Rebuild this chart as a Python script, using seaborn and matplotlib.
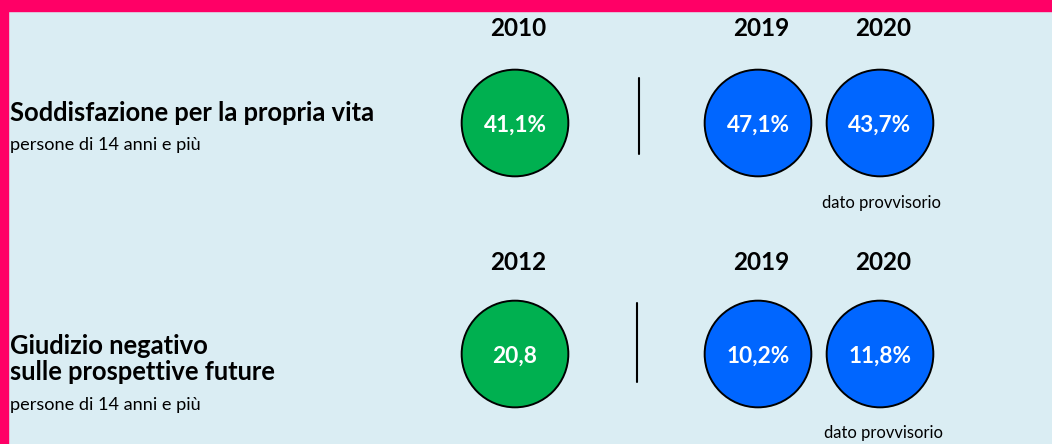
import matplotlib
matplotlib.use("Agg")
import matplotlib.pyplot as plt
import seaborn as sns
import pandas as pd

# data
indicators = ["Soddisfazione per la propria vita",
              "Giudizio negativo\nsulle prospettive future"]
subtitles = ["persone di 14 anni e più", "persone di 14 anni e più"]
years_row1 = ["2010", "2019", "2020"]
years_row2 = ["2012", "2019", "2020"]
values_row1 = [41.1, 47.1, 43.7]
values_row2 = [20.8, 10.2, 11.8]
labels_row1 = ["41,1%", "47,1%", "43,7%"]
labels_row2 = ["20,8", "10,2%", "11,8%"]
periods = ["prima", "recente", "recente"]
note = "dato provvisorio"

# layout (pixels)
col_x = [515, 758, 880]
row_y = [123, 354]
year_y = [28, 262]

rows = []
for r, (yrs, vals, labs) in enumerate([(years_row1, values_row1, labels_row1),
                                        (years_row2, values_row2, labels_row2)]):
    for c in range(3):
        rows.append({"row": r, "col": c, "year": yrs[c], "value": vals[c],
                     "label": labs[c], "period": periods[c],
                     "x": col_x[c], "y": row_y[r]})
df = pd.DataFrame(rows)

sns.set_theme(style="white")
plt.rcParams["font.family"] = ["Lato", "DejaVu Sans"]
plt.rcParams["text.color"] = "black"

fig = plt.figure(figsize=(10.52, 4.44), dpi=100)
fig.patch.set_facecolor("#DAEDF3")
ax = fig.add_axes([0, 0, 1, 1])
ax.set_facecolor("#DAEDF3")
ax.set_xlim(0, 1052)
ax.set_ylim(444, 0)
ax.axis("off")

# pink frame on top and left
ax.axhspan(0, 11, color="#FF0066", zorder=5)
ax.axvspan(0, 8, color="#FF0066", zorder=5)

sns.scatterplot(data=df, x="x", y="y", hue="period",
                palette={"prima": "#00B050", "recente": "#0066FF"},
                s=5900, edgecolor="black", linewidth=1.4, legend=False,
                ax=ax, zorder=3)

for _, r in df.iterrows():
    ax.text(r["x"], r["y"] + 2, r["label"], color="white", fontsize=16.3,
            fontweight="bold", ha="center", va="center", zorder=4)
    ax.text(r["x"] + 3, year_y[r["row"]], r["year"], color="black",
            fontsize=17.5, fontweight="bold", ha="center", va="center")

# separators
ax.plot([639, 639], [78, 154], color="black", lw=1.5)
ax.plot([637, 637], [303, 382], color="black", lw=1.5)

# left labels
ax.text(10, 113, indicators[0], fontsize=18.4, fontweight="bold",
        ha="left", va="center")
ax.text(10, 145, subtitles[0], fontsize=13.1, ha="left", va="center")
ax.text(10, 359, indicators[1], fontsize=18.4, fontweight="bold",
        ha="left", va="center", linespacing=1.1)
ax.text(10, 405, subtitles[1], fontsize=13.1, ha="left", va="center")

ax.text(882, 203, note, fontsize=11.9, ha="center", va="center")
ax.text(883, 433, note, fontsize=11.9, ha="center", va="center")

fig.savefig("out.png", dpi=100, facecolor=fig.get_facecolor())
